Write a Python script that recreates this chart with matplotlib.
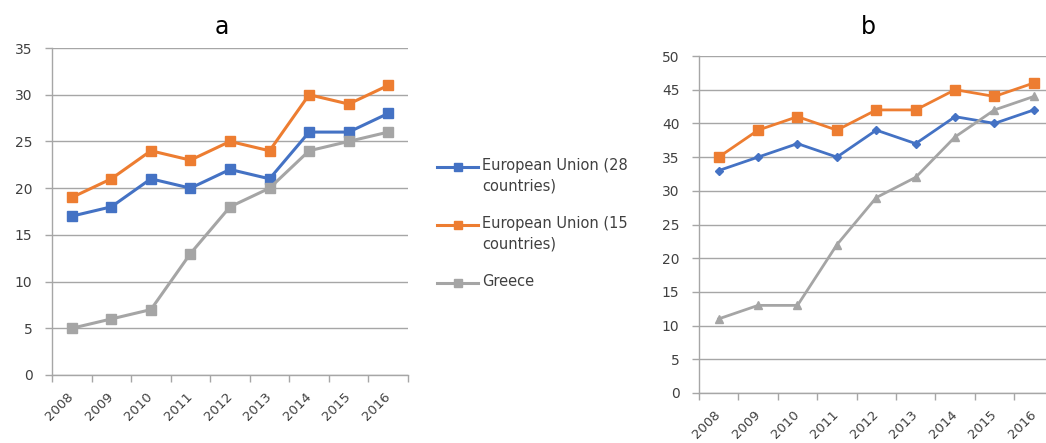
import numpy as np
import matplotlib
matplotlib.use("Agg")
import matplotlib.pyplot as plt
from matplotlib.lines import Line2D
from matplotlib.transforms import ScaledTranslation

plt.rcParams['font.family'] = ['DejaVu Sans']

years = ['2008', '2009', '2010', '2011', '2012', '2013', '2014', '2015', '2016']
series_names = ['European Union (28\ncountries)', 'European Union (15\ncountries)', 'Greece']

a_eu28 = [17, 18, 21, 20, 22, 21, 26, 26, 28]
a_eu15 = [19, 21, 24, 23, 25, 24, 30, 29, 31]
a_greece = [5, 6, 7, 13, 18, 20, 24, 25, 26]

b_eu28 = [33, 35, 37, 35, 39, 37, 41, 40, 42]
b_eu15 = [35, 39, 41, 39, 42, 42, 45, 44, 46]
b_greece = [11, 13, 13, 22, 29, 32, 38, 42, 44]

colors = ['#4472C4', '#ED7D31', '#A5A5A5']
grid_col = '#a6a6a6'
text_col = '#404040'

W, H = 1046, 443
fig = plt.figure(figsize=(W / 100, H / 100), dpi=100)


def px_axes(left, right, top, bottom):
    return fig.add_axes([left / W, 1 - bottom / H, (right - left) / W, (bottom - top) / H])


def style(ax, ymax, title, title_x):
    x = np.arange(len(years))
    ax.set_xlim(-0.5, len(years) - 0.5)
    ax.set_ylim(0, ymax)
    ax.set_yticks(np.arange(0, ymax + 1, 5))
    ax.set_xticks(x)
    ax.set_xticklabels(years, rotation=45, ha='right', va='center', rotation_mode='anchor',
                       fontsize=9.5, color=text_col)
    offset = ScaledTranslation(4 / 100, -3 / 100, fig.dpi_scale_trans)
    for lbl in ax.get_xticklabels():
        lbl.set_transform(lbl.get_transform() + offset)
    ax.set_xticks(np.arange(-0.5, len(years)), minor=True)
    ax.tick_params(axis='x', which='major', length=0, pad=14)
    ax.tick_params(axis='x', which='minor', length=5, width=1, color=grid_col, direction='out')
    ax.tick_params(axis='y', length=5, width=1, color=grid_col, labelsize=10,
                   labelcolor=text_col, pad=9)
    ax.grid(axis='y', color=grid_col, linewidth=1)
    ax.set_axisbelow(True)
    for s in ['top', 'right']:
        ax.spines[s].set_visible(False)
    for s in ['left', 'bottom']:
        ax.spines[s].set_color(grid_col)
        ax.spines[s].set_linewidth(1)
    fig.text(title_x / W, 1 - 27 / H, title, fontsize=17, color='black',
             ha='center', va='center')


# Chart a
ax1 = px_axes(52, 408, 48, 375)
x = np.arange(len(years))
for vals, c in zip([a_eu28, a_eu15, a_greece], colors):
    ax1.plot(x, vals, color=c, linewidth=2.2, marker='s', markersize=6.5,
             markeredgecolor=c, markerfacecolor=c, clip_on=False)
style(ax1, 35, 'a', 222)

# Chart b
ax2 = px_axes(699, 699 + 9 * 39.4, 56, 393)
markers_b = ['D', 's', '^']
sizes_b = [4.5, 7, 5.5]
for vals, c, m, ms in zip([b_eu28, b_eu15, b_greece], colors, markers_b, sizes_b):
    ax2.plot(x, vals, color=c, linewidth=2.0, marker=m, markersize=ms,
             markeredgecolor=c, markerfacecolor=c, clip_on=False)
style(ax2, 50, 'b', 868)

# Legend (between the charts)
leg_y = [167, 225, 283]
for name, c, yy in zip(series_names, colors, leg_y):
    fy = 1 - yy / H
    fig.add_artist(Line2D([437 / W, 478 / W], [fy, fy], color=c, linewidth=2.2,
                          transform=fig.transFigure))
    fig.add_artist(Line2D([457.5 / W], [fy], color=c, marker='s', markersize=6,
                          transform=fig.transFigure))
    fig.text(482 / W, fy + 9 / H, name, fontsize=10.5, color=text_col, ha='left', va='top',
             linespacing=1.45, transform=fig.transFigure)

fig.savefig('out.png', dpi=100)
